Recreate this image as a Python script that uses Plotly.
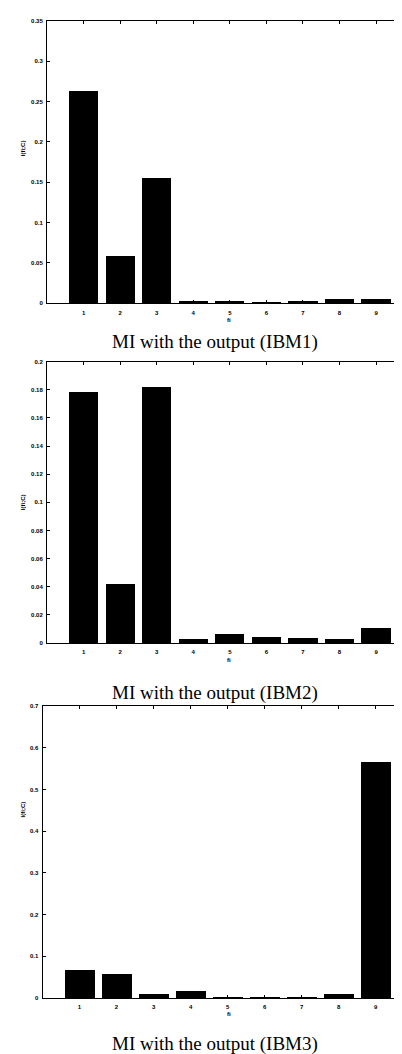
import plotly.graph_objects as go

features = [1, 2, 3, 4, 5, 6, 7, 8, 9]
mi_ibm1 = [0.263, 0.059, 0.156, 0.003, 0.003, 0.002, 0.003, 0.006, 0.005]
mi_ibm2 = [0.179, 0.042, 0.182, 0.0033, 0.0068, 0.0045, 0.0035, 0.003, 0.011]
mi_ibm3 = [0.068, 0.058, 0.009, 0.017, 0.001, 0.002, 0.002, 0.009, 0.566]

titles = ["MI with the output (IBM1)", "MI with the output (IBM2)", "MI with the output (IBM3)"]
ylabel = "I(fi;C)"
xlabel = "fi"

yticks1 = [0, 0.05, 0.1, 0.15, 0.2, 0.25, 0.3, 0.35]
yticks2 = [0, 0.02, 0.04, 0.06, 0.08, 0.1, 0.12, 0.14, 0.16, 0.18, 0.2]
yticks3 = [0, 0.1, 0.2, 0.3, 0.4, 0.5, 0.6, 0.7]

W, H = 402, 1054
def px(y):
    return 1 - y / H

fig = go.Figure()
series = [mi_ibm1, mi_ibm2, mi_ibm3]
ydoms = [(294, 10), (635.7, 352.7), (992.7, 699)]
xlefts = [39, 39, 34.5]
yranges = [[0, 0.35], [0, 0.2], [0, 0.7]]
ytickss = [yticks1, yticks2, yticks3]
title_y = [333, 686, 1039]
ylab_y = [138, 494, 803]
xlab_y = [311, 653, 1009]

tickfont = dict(family="Arial", size=6, color="black", weight="bold")

for i, vals in enumerate(series):
    n = i + 1
    xa = "x" if n == 1 else f"x{n}"
    ya = "y" if n == 1 else f"y{n}"
    fig.add_trace(go.Bar(x=features, y=vals, width=0.8, marker=dict(color="black", line=dict(width=0)),
                         xaxis=xa, yaxis=ya, showlegend=False))
    xkey = "xaxis" if n == 1 else f"xaxis{n}"
    ykey = "yaxis" if n == 1 else f"yaxis{n}"
    bot, top = ydoms[i]
    fig.layout[xkey] = dict(domain=[xlefts[i] / W, 401 / W], range=[0, 9.9], anchor=ya,
                            tickvals=features, ticks="inside", ticklen=3, tickcolor="black",
                            showline=True, linecolor="black", linewidth=1, mirror="ticks",
                            showgrid=False, zeroline=False, tickfont=tickfont, ticklabelstandoff=3)
    fig.layout[ykey] = dict(domain=[px(bot), px(top)], range=yranges[i], anchor=xa,
                            tickvals=ytickss[i], ticktext=[("%g" % v) for v in ytickss[i]],
                            ticks="inside", ticklen=3, tickcolor="black",
                            showline=True, linecolor="black", linewidth=1, mirror="ticks",
                            showgrid=False, zeroline=False, tickfont=tickfont, ticklabelstandoff=2)
    fig.add_annotation(text=titles[i], x=207 / W, y=px(title_y[i]), xref="paper", yref="paper",
                       showarrow=False, xanchor="center", yanchor="middle",
                       font=dict(family="Liberation Serif", size=19, color="black"))
    fig.add_annotation(text=ylabel, x=15 / W, y=px(ylab_y[i]), xref="paper", yref="paper",
                       showarrow=False, xanchor="center", yanchor="middle", textangle=-90,
                       font=dict(family="Arial", size=6, color="black", weight="bold"))
    fig.add_annotation(text=xlabel, x=221 / W, y=px(xlab_y[i]), xref="paper", yref="paper",
                       showarrow=False, xanchor="center", yanchor="middle",
                       font=dict(family="Arial", size=6, color="black", weight="bold"))

fig.update_layout(width=W, height=H, margin=dict(l=0, r=0, t=0, b=0),
                  paper_bgcolor="white", plot_bgcolor="white", bargap=0)

fig.write_html("out.html")
